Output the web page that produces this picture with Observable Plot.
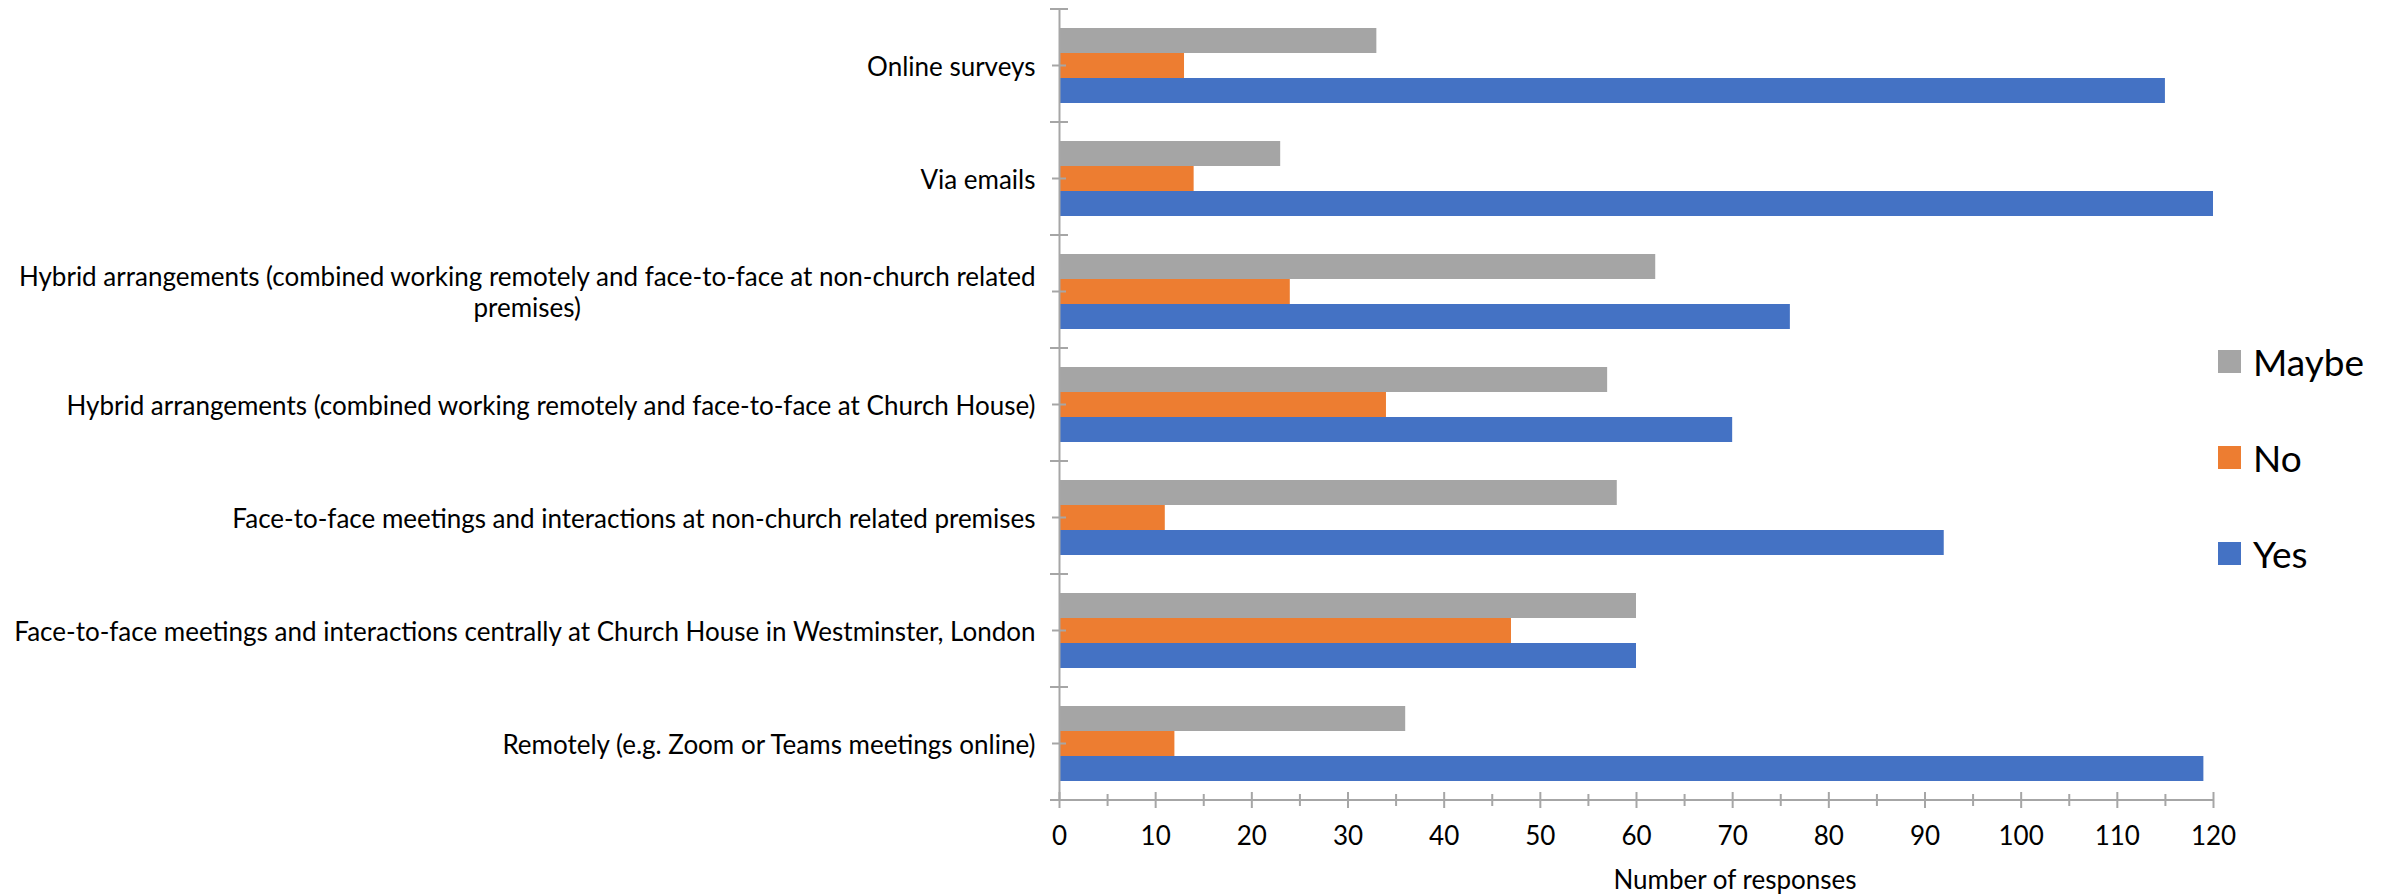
<!DOCTYPE html>
<html>
<head>
<meta charset="utf-8">
<script src="https://cdn.jsdelivr.net/npm/d3@7"></script>
<script src="https://cdn.jsdelivr.net/npm/@observablehq/plot@0.6"></script>
<style>
  html, body { margin: 0; padding: 0; background: #fff; }
  #wrap { position: relative; width: 2395px; height: 894px; font-family: Lato, "Open Sans", sans-serif; color: #000; overflow: hidden; }
  #legend { position: absolute; left: 2218px; top: 338px; }
  .lg { display: flex; align-items: center; height: 46px; margin-bottom: 50px; font-size: 37px; }
  .sw { width: 23px; height: 23px; margin-right: 12px; }
  #xtitle { position: absolute; top: 864px; left: 1735px; transform: translateX(-50%); font-size: 26px; white-space: nowrap; line-height: 30px; }
</style>
</head>
<body>
<div id="wrap"></div>
<script>
// ---- data ----
const categories = [
  "Online surveys",
  "Via emails",
  "Hybrid arrangements (combined working remotely and face-to-face at non-church related\npremises)",
  "Hybrid arrangements (combined working remotely and face-to-face at Church House)",
  "Face-to-face meetings and interactions at non-church related premises",
  "Face-to-face meetings and interactions centrally at Church House in Westminster, London",
  "Remotely (e.g. Zoom or Teams meetings online)"
];
const seriesNames = ["Maybe", "No", "Yes"];
const maybeValues = [33, 23, 62, 57, 58, 60, 36];
const noValues    = [13, 14, 24, 34, 11, 47, 12];
const yesValues   = [115, 120, 76, 70, 92, 60, 119];
const seriesColors = ["#A5A5A5", "#ED7D31", "#4472C4"];
const majorTicks = [0, 10, 20, 30, 40, 50, 60, 70, 80, 90, 100, 110, 120];
const minorTicks = [5, 15, 25, 35, 45, 55, 65, 75, 85, 95, 105, 115];
const xTitle = "Number of responses";

const valuesBySeries = { Maybe: maybeValues, No: noValues, Yes: yesValues };
const data = categories.flatMap((c, i) =>
  seriesNames.map(s => ({ category: c, series: s, value: valuesBySeries[s][i] }))
);

const axisGray = "#a6a6a6";

const plot = Plot.plot({
  width: 2395,
  height: 894,
  marginLeft: 1059,
  marginRight: 182,
  marginTop: 9,
  marginBottom: 94,
  style: { fontFamily: "Lato, 'Open Sans', sans-serif", fontSize: "26px", color: "#000", background: "#fff", overflow: "visible" },
  x: { domain: [0, 120] },
  y: { domain: seriesNames, paddingInner: 0, paddingOuter: 0.76, axis: null },
  fy: { domain: categories, padding: 0 },
  color: { domain: seriesNames, range: seriesColors },
  marks: [
    Plot.barX(data, { x: "value", y: "series", fy: "category", fill: "series" }),
    Plot.ruleX([0], { stroke: axisGray, strokeWidth: 2 }),
    Plot.axisFy({ anchor: "left", tickSize: 0, tickPadding: 24, label: null, fontSize: 26, lineHeight: 1.18, fill: "#000" }),
    Plot.axisX({ ticks: majorTicks, tickSize: 16, dy: -8, tickPadding: 18, label: null, stroke: axisGray, strokeWidth: 2, fontSize: 26, fill: "#000" }),
    Plot.axisX({ ticks: minorTicks, tickSize: 12, dy: -6, label: null, stroke: axisGray, strokeWidth: 2, fill: "none" })
  ]
});

const wrap = document.getElementById("wrap");
wrap.appendChild(plot);

// axis lines and category ticks from the plot's own scales
const xs = plot.scale("x");
const fys = plot.scale("fy");
const xScale = d3.scaleLinear().domain(xs.domain).range(xs.range);
const fyScale = d3.scaleBand().domain(fys.domain).range(fys.range).paddingInner(0).paddingOuter(0);
const svg = d3.select(plot);
const g = svg.append("g").attr("stroke", axisGray).attr("stroke-width", 2);
const yBottom = fys.range[1];
g.append("line").attr("x1", xScale(0)).attr("x2", xScale(120)).attr("y1", yBottom).attr("y2", yBottom);
const boundaries = fys.domain.map(c => fyScale(c)).concat([yBottom]);
boundaries.forEach(y => g.append("line").attr("x1", xScale(0) - 9).attr("x2", xScale(0) + 9).attr("y1", y).attr("y2", y));
fys.domain.forEach(c => {
  const y = fyScale(c) + fyScale.bandwidth() / 2;
  g.append("line").attr("x1", xScale(0) - 7).attr("x2", xScale(0) + 7).attr("y1", y).attr("y2", y);
});

// center multi-line category labels (as in the reference)
svg.selectAll("text").each(function () {
  const tspans = this.querySelectorAll("tspan");
  if (tspans.length > 1) {
    let w = 0;
    tspans.forEach(t => { w = Math.max(w, t.getComputedTextLength()); });
    this.setAttribute("text-anchor", "middle");
    const tr = this.getAttribute("transform") || "";
    this.setAttribute("transform", tr + ` translate(${-w / 2},0)`);
  }
});

// legend
const legend = document.createElement("div");
legend.id = "legend";
seriesNames.forEach((s, i) => {
  const row = document.createElement("div");
  row.className = "lg";
  const sw = document.createElement("div");
  sw.className = "sw";
  sw.style.background = seriesColors[i];
  const tx = document.createElement("span");
  tx.textContent = s;
  row.appendChild(sw);
  row.appendChild(tx);
  legend.appendChild(row);
});
wrap.appendChild(legend);

const title = document.createElement("div");
title.id = "xtitle";
title.textContent = xTitle;
wrap.appendChild(title);
</script>
</body>
</html>
